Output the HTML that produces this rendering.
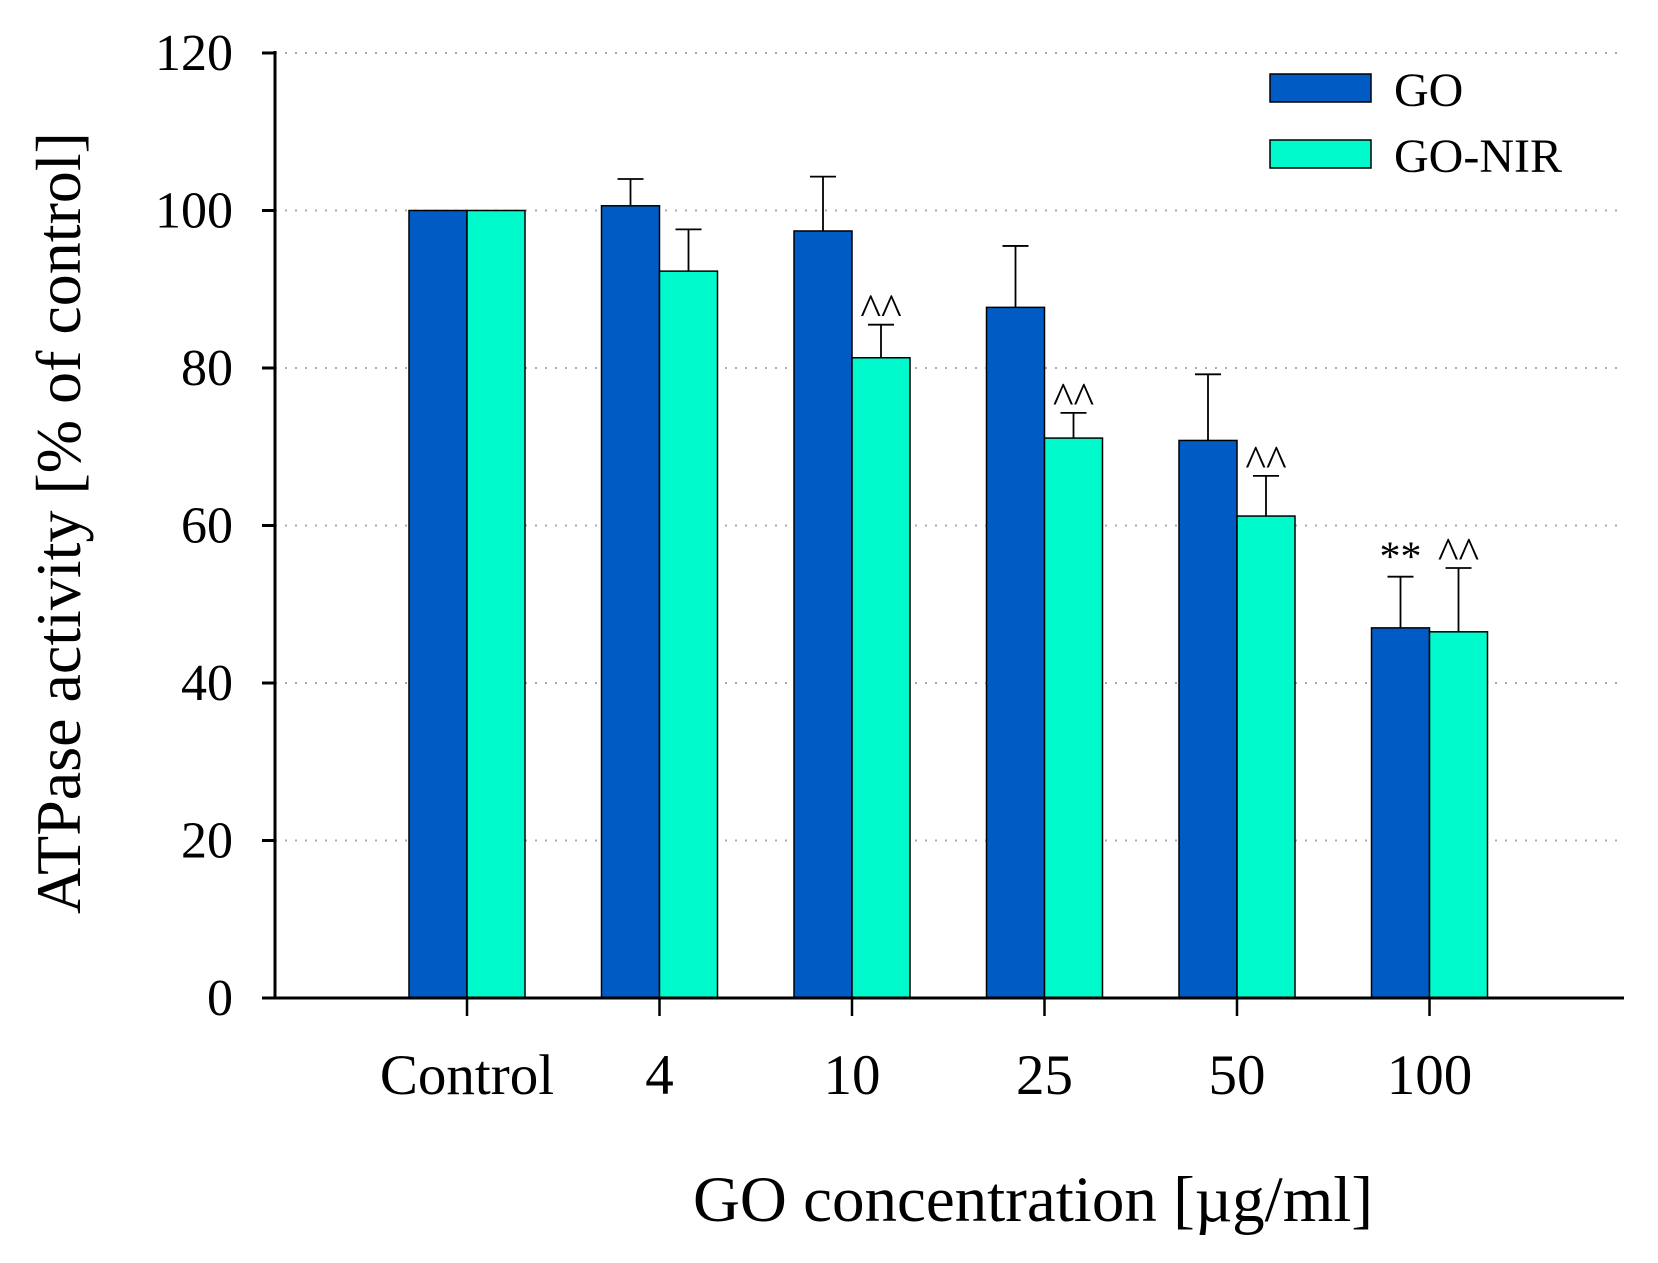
<!DOCTYPE html>
<html><head><meta charset="utf-8"><style>
html,body{margin:0;padding:0;background:#fff;}
svg{display:block;font-family:"Liberation Serif",serif;}
</style></head><body>
<svg id="chart" width="1658" height="1263" viewBox="0 0 1658 1263" xmlns="http://www.w3.org/2000/svg">
<g id="grid"></g>
<g id="bars"></g>
<g id="axes"></g>
<text transform="translate(80,523) rotate(-90)" text-anchor="middle" font-size="64">ATPase activity [% of control]</text>
<text x="1033" y="1221" text-anchor="middle" font-size="65">GO concentration [µg/ml]</text>
<g>
<rect x="1270" y="74" width="101" height="28" fill="#005bc4" stroke="#000" stroke-width="1.5"/>
<text x="1394" y="106" font-size="48">GO</text>
<rect x="1270" y="140" width="101" height="28" fill="#00facc" stroke="#000" stroke-width="1.5"/>
<text x="1394" y="172" font-size="48">GO-NIR</text>
</g>
</svg>
<script>
const categories = ["Control","4","10","25","50","100"];
const goValues = [100,100.6,97.4,87.7,70.8,47.0];
const nirValues = [100,92.3,81.3,71.1,61.2,46.5];
const goErrTop = [null,104.0,104.3,95.5,79.2,53.5];
const nirErrTop = [null,97.6,85.5,74.3,66.3,54.6];
const goMarks = ["","","","","","**"];
const nirMarks = ["","","^^","^^","^^","^^"];
const yTicks = [0,20,40,60,80,100,120];

const NS="http://www.w3.org/2000/svg";
const X0=275, X1=1624, Y0=998, Ytop=53;
const yS=v=>Y0-(v/120)*(Y0-Ytop);
const xC=i=>467+i*192.5;
const BW=58;
function mk(tag,attrs,parent){const e=document.createElementNS(NS,tag);for(const k in attrs)e.setAttribute(k,attrs[k]);parent.appendChild(e);return e;}
const grid=document.getElementById('grid'),bars=document.getElementById('bars'),axes=document.getElementById('axes');

yTicks.forEach(t=>{
  const y=yS(t);
  if(t>0){const g=mk('line',{x1:X0,x2:1617,y1:y,y2:y,stroke:'#aaa','stroke-width':2,'stroke-dasharray':'2 8'},grid);
  
  }
  const tk=mk('line',{x1:262,x2:X0,y1:y,y2:y,stroke:'#000','stroke-width':3},axes);
  
  
  const tx=mk('text',{x:233,y:y+17,'text-anchor':'end','font-size':52},axes);
  tx.textContent=t;
  
  
});

function errBar(x,v,top,name){
  if(top==null)return;
  const l=mk('line',{x1:x,x2:x,y1:yS(v),y2:yS(top),stroke:'#000','stroke-width':1.8},bars);
  
  
  const c=mk('line',{x1:x-13,x2:x+13,y1:yS(top),y2:yS(top),stroke:'#000','stroke-width':1.8},bars);
  
  
}
function mark(x,top,txt,name){
  if(!txt)return;
  const t=mk('text',{x:x,y:yS(top)-(txt==='**'?6:0),'text-anchor':'middle','font-size':txt==='**'?42:44},bars);
  t.textContent=txt;
  
  
}
categories.forEach((c,i)=>{
  const cx=xC(i);
  const b1=mk('rect',{x:cx-BW,y:yS(goValues[i]),width:BW,height:Y0-yS(goValues[i]),fill:'#005bc4',stroke:'#000','stroke-width':1.5},bars);
  
  
  const b2=mk('rect',{x:cx,y:yS(nirValues[i]),width:BW,height:Y0-yS(nirValues[i]),fill:'#00facc',stroke:'#000','stroke-width':1.5},bars);
  
  
  errBar(cx-BW/2,goValues[i],goErrTop[i],'error-bar-go-'+c);
  errBar(cx+BW/2,nirValues[i],nirErrTop[i],'error-bar-go-nir-'+c);
  mark(cx-BW/2,goErrTop[i]??goValues[i],goMarks[i],'significance-go-'+c);
  mark(cx+BW/2,nirErrTop[i]??nirValues[i],nirMarks[i],'significance-go-nir-'+c);
  const tk=mk('line',{x1:cx,x2:cx,y1:Y0,y2:Y0+18,stroke:'#000','stroke-width':2.5},axes);
  
  
  const tx=mk('text',{x:cx,y:1094,'text-anchor':'middle','font-size':57},axes);
  tx.textContent=c;
  
  
});
const ya=mk('line',{x1:X0,x2:X0,y1:Ytop-2,y2:Y0+1.5,stroke:'#000','stroke-width':3},axes);


const xa=mk('line',{x1:X0-1.5,x2:X1,y1:Y0,y2:Y0,stroke:'#000','stroke-width':3},axes);


</script>
</body></html>
